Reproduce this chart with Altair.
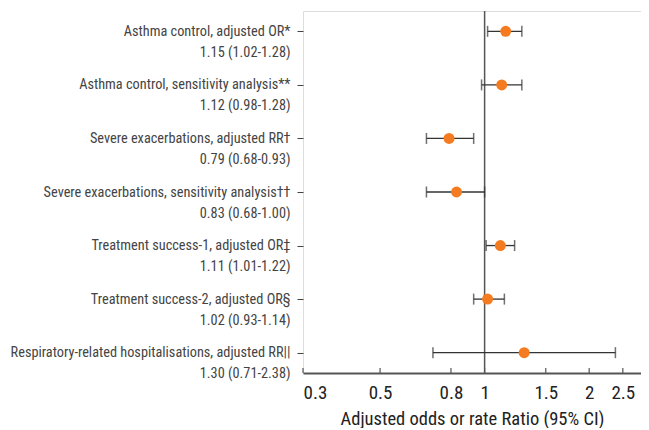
import altair as alt
import pandas as pd

names = [
    "Asthma control, adjusted OR*",
    "Asthma control, sensitivity analysis**",
    "Severe exacerbations, adjusted RR†",
    "Severe exacerbations, sensitivity analysis††",
    "Treatment success-1, adjusted OR‡",
    "Treatment success-2, adjusted OR§",
    "Respiratory-related hospitalisations, adjusted RR||",
]
est = [1.15, 1.12, 0.79, 0.83, 1.11, 1.02, 1.30]
lo = [1.02, 0.98, 0.68, 0.68, 1.01, 0.93, 0.71]
hi = [1.28, 1.28, 0.93, 1.00, 1.22, 1.14, 2.38]
x_ticks = [0.3, 0.5, 0.8, 1, 1.5, 2, 2.5]

FONT = "Roboto Condensed, Liberation Sans Narrow, DejaVu Sans Condensed, sans-serif"

labels = [f"{n}#{e:.2f} ({l:.2f}-{h:.2f})" for n, e, l, h in zip(names, est, lo, hi)]
df = pd.DataFrame({"label": labels, "est": est, "lo": lo, "hi": hi})
ticks_df = pd.DataFrame({"t": x_ticks})

xscale = alt.Scale(type="log", domain=[0.3, 2.82], nice=False)
yscale = alt.Scale(type="point", padding=0.38)

y_enc = alt.Y(
    "label:N",
    sort=labels,
    scale=yscale,
    axis=alt.Axis(
        title=None,
        domain=False,
        ticks=True,
        tickSize=6,
        tickColor="#444",
        tickWidth=1,
        labelPadding=7,
        labelExpr="split(datum.label, '#')",
        labelFont=FONT,
        labelFontSize=14.3,
        labelLineHeight=21,
        labelColor="#444",
        labelBaseline="middle",
        labelLimit=400,
    ),
)

base = alt.Chart(df)

x_axis = alt.Axis(
    values=x_ticks,
    format="~g",
    title="Adjusted odds or rate Ratio (95% CI)",
    titleFont=FONT,
    titleFontSize=18.5,
    titleFontWeight="normal",
    titleColor="#222",
    titlePadding=7,
    labelFont=FONT,
    labelFontSize=19,
    labelColor="#222",
    labelPadding=10,
    ticks=False,
    grid=False,
    domainColor="#555",
    domainWidth=2,
)

vline = alt.Chart(pd.DataFrame({"v": [1]})).mark_rule(color="#555", strokeWidth=1.5).encode(
    x=alt.X("v:Q", scale=xscale, axis=x_axis)
)

xticks = alt.Chart(ticks_df).mark_rule(color="#555", strokeWidth=1.2).encode(
    x=alt.X("t:Q", scale=xscale),
    y=alt.value(357),
    y2=alt.value(362),
)

ci = base.mark_rule(color="#333", strokeWidth=1.3).encode(
    x=alt.X("lo:Q", scale=xscale), x2="hi:Q", y=y_enc
)
cap_lo = base.mark_tick(color="#333", thickness=1.5, size=11, orient="vertical").encode(
    x=alt.X("lo:Q", scale=xscale), y=y_enc
)
cap_hi = base.mark_tick(color="#333", thickness=1.5, size=11, orient="vertical").encode(
    x=alt.X("hi:Q", scale=xscale), y=y_enc
)
pts = base.mark_circle(color="#F47B20", opacity=1, size=120).encode(
    x=alt.X("est:Q", scale=xscale), y=y_enc
)

chart = (
    alt.layer(vline, xticks, ci, cap_lo, cap_hi, pts)
    .properties(
        width=633,
        height=420,
        autosize=alt.AutoSizeParams(type="fit", contains="padding"),
        padding={"left": 2, "top": 2, "right": 0, "bottom": 0},
    )
    .configure_view(stroke=None)
    .configure(background="white")
)

chart.save("out.html", embed_options={"renderer": "svg", "actions": False})
